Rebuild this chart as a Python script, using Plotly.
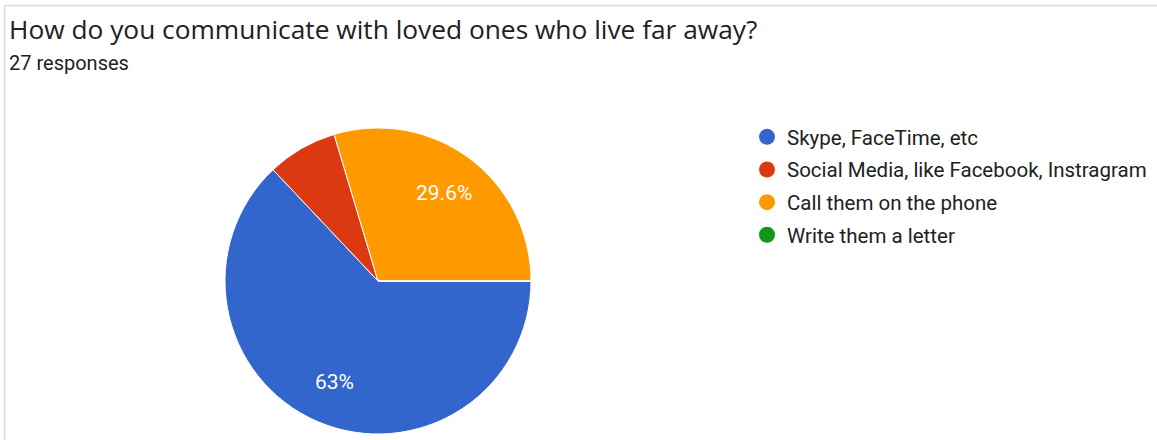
import math
import plotly.graph_objects as go

title = "How do you communicate with loved ones who live far away?"
subtitle = "27 responses"
categories = ["Skype, FaceTime, etc", "Social Media, like Facebook, Instragram",
              "Call them on the phone", "Write them a letter"]
counts = [17, 2, 8, 0]
colors = ["#3366cc", "#dc3912", "#ff9900", "#109618"]

W, H = 1157, 440
total = sum(counts)
start_deg = 90  # first slice starts at 3 o'clock, going clockwise


def fmt(v):
    p = 100.0 * v / total
    s = f"{p:.1f}".rstrip("0").rstrip(".")
    return s + "%"


cx, cy, r = 378, 281, 153
fig = go.Figure()
fig.add_trace(go.Pie(
    labels=categories, values=counts, sort=False, direction="clockwise", rotation=start_deg,
    marker=dict(colors=colors, line=dict(color="white", width=1)),
    textinfo="none", showlegend=False, hoverinfo="label+percent",
    domain=dict(x=[(cx - r) / W, (cx + r) / W], y=[1 - (cy + r) / H, 1 - (cy - r) / H]),
))
for i, (c, col) in enumerate(zip(categories, colors)):
    fig.add_trace(go.Scatter(x=[None], y=[None], mode="markers", name=c,
                             legendgroup=str(i),
                             marker=dict(symbol="circle", size=16, color=col)))

# slice labels (only for slices large enough), placed along each slice's mid-angle
annotations = []
acc = 0.0
for v in counts:
    frac = v / total
    mid = math.radians(start_deg + 360 * (acc + frac / 2))
    acc += frac
    if frac < 0.1:
        continue
    d = 0.72 * r
    px = cx + d * math.sin(mid)
    py = cy - d * math.cos(mid)
    annotations.append(dict(text=fmt(v), x=px / W, y=1 - py / H, xref="paper", yref="paper",
                            xanchor="center", yanchor="middle", showarrow=False,
                            font=dict(family="Roboto", size=21, color="white")))

annotations += [
    dict(text=title, x=7 / W, y=1 - 9 / H, xref="paper", yref="paper",
         xanchor="left", yanchor="top", showarrow=False,
         font=dict(family="Open Sans", size=26.3, color="#202124")),
    dict(text=subtitle, x=7 / W, y=1 - 48.5 / H, xref="paper", yref="paper",
         xanchor="left", yanchor="top", showarrow=False,
         font=dict(family="Roboto", size=20, color="#202124")),
]

fig.update_layout(
    width=W, height=H, margin=dict(l=0, r=0, t=0, b=0),
    paper_bgcolor="white", plot_bgcolor="white",
    xaxis=dict(visible=False), yaxis=dict(visible=False),
    legend=dict(x=747 / W, y=1 - 117 / H, xanchor="left", yanchor="top",
                font=dict(family="Roboto", size=20.5, color="#212121"),
                tracegroupgap=3, itemsizing="trace", bgcolor="rgba(0,0,0,0)"),
    annotations=annotations,
    shapes=[dict(type="rect", xref="paper", yref="paper",
                 x0=4.5 / W, x1=1.05, y0=-0.05, y1=1 - 5.5 / H,
                 line=dict(color="#dadce0", width=1.5), layer="below")],
)
fig.write_html("out.html", config={"displayModeBar": False},
               post_script="document.body.style.margin='0';")
